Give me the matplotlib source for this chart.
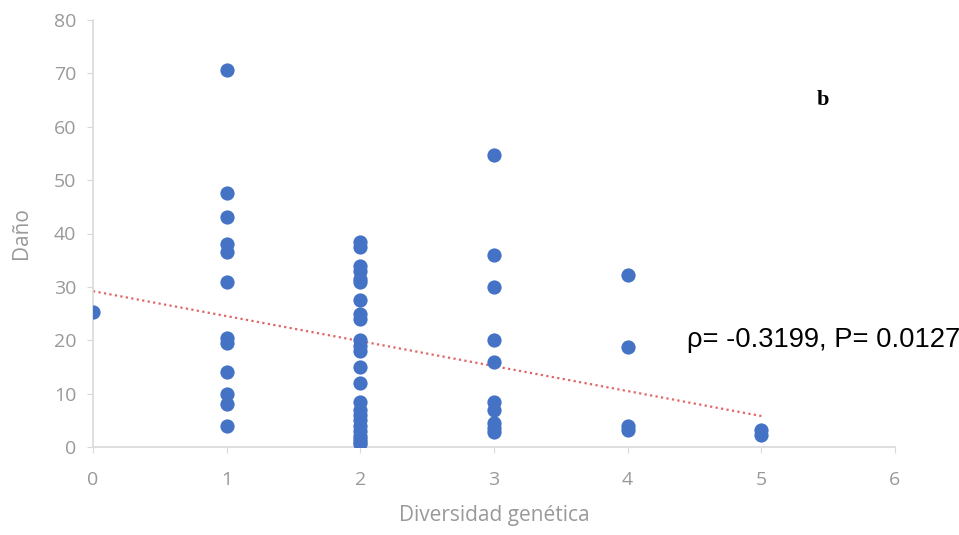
import numpy as np
import matplotlib.pyplot as plt

# Data
x0 = [0]
y0 = [25.3]
x1 = [1] * 12
y1 = [70.7, 47.5, 43, 38, 36.5, 31, 20.5, 19.5, 14, 10, 8, 4]
x2 = [2] * 24
y2 = [38.5, 37.5, 34, 33, 31.5, 31, 27.5, 25, 24, 20, 19, 18, 15, 12,
      8.5, 7, 6, 5, 4, 3, 2, 1.5, 1, 0.5]
x3 = [3] * 10
y3 = [54.7, 36, 30, 20, 16, 8.5, 7, 4.5, 3.5, 2.8]
x4 = [4] * 4
y4 = [32.3, 18.8, 4, 3.2]
x5 = [5] * 2
y5 = [3.2, 2.2]

# trend line end values as drawn
trend_x = [0, 5]
trend_y = [29.2, 5.8]

xs = x0 + x1 + x2 + x3 + x4 + x5
ys = y0 + y1 + y2 + y3 + y4 + y5

fig = plt.figure(figsize=(9.59, 5.35), dpi=100)
ax = fig.add_axes([93 / 959, 1 - 447 / 535, (895 - 93) / 959, (447 - 20) / 535])

ax.scatter(xs, ys, s=105, color="#4472C4", zorder=3, linewidths=0)
ax.plot(trend_x, trend_y, linestyle=(0, (1, 1.5)), color="#E06666", linewidth=1.6, zorder=2)

ax.set_xlim(0, 6)
ax.set_ylim(0, 80)
ax.set_xticks(range(0, 7))
ax.set_yticks(range(0, 81, 10))

for side in ["top", "right"]:
    ax.spines[side].set_visible(False)
for side in ["left", "bottom"]:
    ax.spines[side].set_color("#d9d9d9")
    ax.spines[side].set_linewidth(1.2)

ax.tick_params(axis="both", colors="#d9d9d9", length=4, labelcolor="#999999", labelsize=14)
for lab in ax.get_xticklabels() + ax.get_yticklabels():
    lab.set_fontfamily("Open Sans")
ax.tick_params(axis="x", pad=13)
ax.tick_params(axis="y", pad=8)

ax.set_xlabel("Diversidad genética", fontsize=15, color="#999999", family="Open Sans", labelpad=12)
ax.set_ylabel("Daño", fontsize=15, color="#999999", family="Open Sans", labelpad=16)

fig.text(823 / 959, 1 - 100 / 535, "b", fontsize=16, fontweight="bold",
         family="Liberation Serif", ha="center", va="center")
fig.text(687 / 959, 1 - 340 / 535, "ρ= -0.3199, P= 0.0127", fontsize=19.7,
         family="Liberation Sans", ha="left", va="center")

fig.savefig("out.png", dpi=100)
